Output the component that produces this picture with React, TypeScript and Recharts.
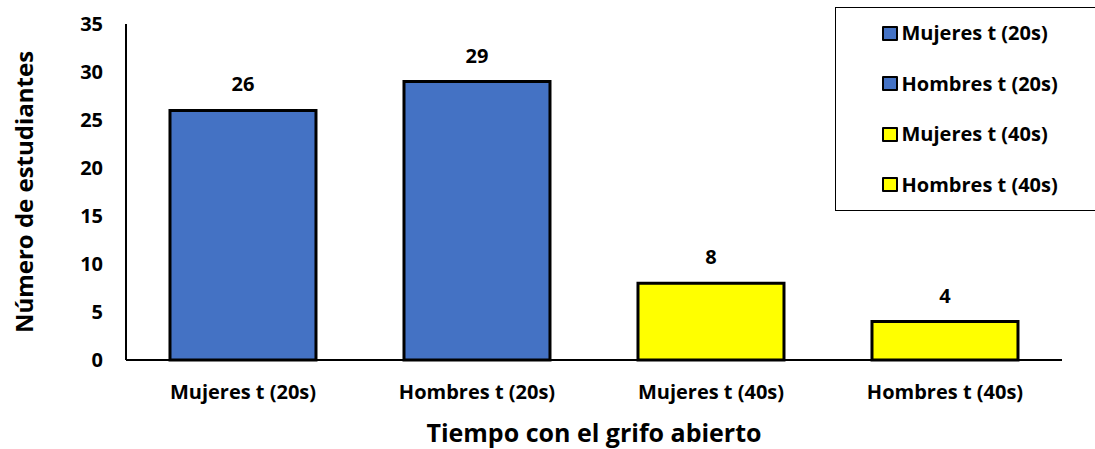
import React from "react";
import { BarChart, Bar, XAxis, YAxis, LabelList, Cell, Label } from "recharts";

// Students per group and tap-open time
const categories = ["Mujeres t (20s)", "Hombres t (20s)", "Mujeres t (40s)", "Hombres t (40s)"];
const students = [26, 29, 8, 4];
const colors = ["#4472C4", "#4472C4", "#FFFF00", "#FFFF00"];
const yTicks = [0, 5, 10, 15, 20, 25, 30, 35];

const data = categories.map((name, i) => ({ name, value: students[i] }));

const FONT = "'Open Sans', sans-serif";

const LegendBox = () => (
  <div
    style={{
      position: "absolute",
      left: 835,
      top: 7,
      border: "1.5px solid #000",
      background: "#fff",
      width: 270,
      height: 204,
      boxSizing: "border-box",
      fontFamily: FONT,
      fontWeight: 700,
      fontSize: 20,
      color: "#000",
      paddingTop: 0,
      paddingLeft: 45.5,
    }}
  >
    {categories.map((c, i) => (
      <div key={c} style={{ display: "flex", alignItems: "center", height: 50.5 }}>
        <span
          style={{
            display: "inline-block",
            width: 12,
            height: 11,
            background: colors[i],
            border: "2.5px solid #000",
            borderRadius: 1,
            marginRight: 4,
          }}
        />
        <span style={{ lineHeight: "24px" }}>{c}</span>
      </div>
    ))}
  </div>
);

export default function App() {
  return (
    <div style={{ position: "absolute", left: 0, top: 0, width: 1095, height: 449, background: "#fff" }}>
      <BarChart
        width={1095}
        height={449}
        data={data}
        margin={{ top: 24, right: 33, bottom: 0, left: 0 }}
        barCategoryGap="18.8%"
      >
        <XAxis
          dataKey="name"
          axisLine={{ stroke: "#000", strokeWidth: 2 }}
          tickLine={false}
          tickSize={0}
          tickMargin={25}
          height={89}
          tick={{ fill: "#000", fontSize: 20, fontWeight: 700, fontFamily: FONT }}
        >
          <Label
            value="Tiempo con el grifo abierto"
            position="insideBottom"
            offset={7}
            style={{ fill: "#000", fontSize: 25, fontWeight: 700, fontFamily: FONT }}
          />
        </XAxis>
        <YAxis
          width={126}
          domain={[0, 35]}
          ticks={yTicks}
          interval={0}
          axisLine={{ stroke: "#000", strokeWidth: 2 }}
          tickLine={false}
          tickSize={0}
          tickMargin={23}
          tick={{ fill: "#000", fontSize: 20, fontWeight: 700, fontFamily: FONT }}
        >
          <Label
            content={(props: any) => {
              const vb = props.viewBox || { x: 0, y: 24, width: 126, height: 336 };
              const cx = 23;
              const cy = vb.y + vb.height / 2;
              return (
                <text
                  x={cx}
                  y={cy}
                  transform={`rotate(-90 ${cx} ${cy})`}
                  textAnchor="middle"
                  dominantBaseline="central"
                  style={{ fill: "#000", fontSize: 24, fontWeight: 700, fontFamily: FONT }}
                >
                  Número de estudiantes
                </text>
              );
            }}
          />
        </YAxis>
        <Bar dataKey="value" stroke="#000" strokeWidth={3} isAnimationActive={false}>
          {data.map((d, i) => (
            <Cell key={d.name} fill={colors[i]} />
          ))}
          <LabelList
            dataKey="value"
            position="top"
            offset={19}
            style={{ fill: "#000", fontSize: 20, fontWeight: 700, fontFamily: FONT }}
          />
        </Bar>
      </BarChart>
      <LegendBox />
    </div>
  );
}
